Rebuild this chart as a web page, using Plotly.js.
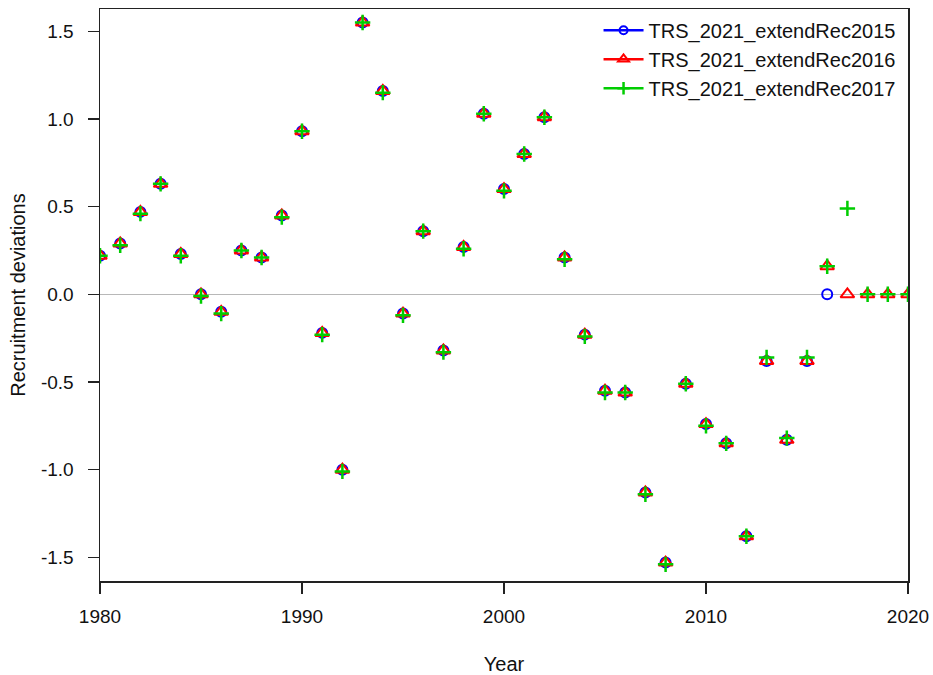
<!DOCTYPE html>
<html>
<head>
<meta charset="utf-8">
<script src="https://cdn.plot.ly/plotly-3.0.1.min.js"></script>
<style>html,body{margin:0;padding:0;background:#fff;}#chart{width:933px;height:675px;}</style>
</head>
<body>
<div id="chart"></div>
<script>
// ---- data ----
const seriesNames = ["TRS_2021_extendRec2015", "TRS_2021_extendRec2016", "TRS_2021_extendRec2017"];

const yearsRec2015 = [1980,1981,1982,1983,1984,1985,1986,1987,1988,1989,
                      1990,1991,1992,1993,1994,1995,1996,1997,1998,1999,
                      2000,2001,2002,2003,2004,2005,2006,2007,2008,2009,
                      2010,2011,2012,2013,2014,2015,2016];
const devsRec2015  = [0.22,0.29,0.47,0.63,0.23,0.00,-0.10,0.25,0.21,0.45,
                      0.93,-0.22,-1.00,1.55,1.16,-0.11,0.36,-0.32,0.27,1.03,
                      0.60,0.80,1.01,0.21,-0.23,-0.55,-0.56,-1.13,-1.53,-0.51,
                      -0.74,-0.85,-1.38,-0.38,-0.83,-0.38,0.00];

const yearsRec2016 = [1980,1981,1982,1983,1984,1985,1986,1987,1988,1989,
                      1990,1991,1992,1993,1994,1995,1996,1997,1998,1999,
                      2000,2001,2002,2003,2004,2005,2006,2007,2008,2009,
                      2010,2011,2012,2013,2014,2015,2016,2017,2018,2019,2020];
const devsRec2016  = [0.22,0.29,0.47,0.63,0.23,0.00,-0.10,0.25,0.21,0.45,
                      0.93,-0.22,-1.00,1.55,1.16,-0.11,0.36,-0.32,0.27,1.03,
                      0.60,0.80,1.01,0.21,-0.23,-0.55,-0.56,-1.13,-1.53,-0.51,
                      -0.74,-0.85,-1.38,-0.38,-0.83,-0.38,0.16,0.00,0.00,0.00,0.00];

const yearsRec2017 = [1980,1981,1982,1983,1984,1985,1986,1987,1988,1989,
                      1990,1991,1992,1993,1994,1995,1996,1997,1998,1999,
                      2000,2001,2002,2003,2004,2005,2006,2007,2008,2009,
                      2010,2011,2012,2013,2014,2015,2016,2017,2018,2019,2020];
const devsRec2017  = [0.22,0.28,0.46,0.63,0.22,-0.01,-0.11,0.25,0.21,0.44,
                      0.93,-0.23,-1.01,1.55,1.15,-0.12,0.36,-0.33,0.26,1.03,
                      0.59,0.80,1.01,0.20,-0.24,-0.56,-0.56,-1.14,-1.54,-0.51,
                      -0.75,-0.85,-1.38,-0.36,-0.82,-0.36,0.16,0.49,0.00,0.00,0.00];

const xTickVals = [1980, 1990, 2000, 2010, 2020];
const xTickText = ["1980", "1990", "2000", "2010", "2020"];
const yTickVals = [-1.5, -1.0, -0.5, 0.0, 0.5, 1.0, 1.5];
const yTickText = ["-1.5", "-1.0", "-0.5", "0.0", "0.5", "1.0", "1.5"];

// ---- styles ----
const FONT = "Liberation Sans, Arial, Helvetica, sans-serif";
const colors = ["#0000FF", "#FF0000", "#00CD00"];
const markerStyles = [
  {symbol: "circle-open", size: 10, line: {width: 2, color: colors[0]}, color: colors[0]},
  {symbol: "triangle-up-open", size: 12, line: {width: 2, color: colors[1]}, color: colors[1]},
  {symbol: "cross-thin-open", size: 11, line: {width: 2.5, color: colors[2]}, color: colors[2]}
];
const xs = [yearsRec2015, yearsRec2016, yearsRec2017];
const ys = [devsRec2015, devsRec2016, devsRec2017];

const traces = [];
for (let i = 0; i < 3; i++) {
  traces.push({
    type: "scatter", mode: "markers", x: xs[i], y: ys[i],
    marker: markerStyles[i], showlegend: false, cliponaxis: true,
    hoverinfo: "x+y", name: seriesNames[i]
  });
}
// legend entries (line + marker, as in the reference key)
for (let i = 0; i < 3; i++) {
  traces.push({
    type: "scatter", mode: "lines+markers", x: [null], y: [null],
    name: seriesNames[i],
    line: {color: colors[i], width: 2.5},
    marker: Object.assign({}, markerStyles[i], {size: markerStyles[i].size * 0.8}),
    showlegend: true
  });
}

const layout = {
  width: 933, height: 675,
  margin: {l: 100, r: 25, t: 9, b: 94, pad: 0},
  paper_bgcolor: "#ffffff", plot_bgcolor: "#ffffff",
  font: {family: FONT, size: 19, color: "#111"},
  showlegend: true,
  legend: {
    x: 0.617, y: 0.997, xanchor: "left", yanchor: "top",
    bgcolor: "rgba(0,0,0,0)", borderwidth: 0,
    font: {family: FONT, size: 20, color: "#111"},
    itemwidth: 40, tracegroupgap: 0
  },
  xaxis: {
    range: [1980, 2020], tickmode: "array", tickvals: xTickVals, ticktext: xTickText,
    showgrid: false, zeroline: false,
    showline: true, mirror: true, linecolor: "#222", linewidth: 1.5,
    ticks: "outside", ticklen: 11, tickwidth: 1.3, tickcolor: "#222",
    ticklabelstandoff: 7,
    tickfont: {family: FONT, size: 19, color: "#111"},
    title: {text: "Year", font: {family: FONT, size: 20, color: "#111"}, standoff: 31}
  },
  yaxis: {
    range: [-1.635, 1.627], tickmode: "array", tickvals: yTickVals, ticktext: yTickText,
    showgrid: false,
    zeroline: true, zerolinecolor: "#b8b8b8", zerolinewidth: 1.5,
    showline: true, mirror: true, linecolor: "#222", linewidth: 1.5,
    ticks: "outside", ticklen: 11, tickwidth: 1.3, tickcolor: "#222",
    ticklabelstandoff: 10,
    tickfont: {family: FONT, size: 19, color: "#111"},
    title: {text: "Recruitment deviations", font: {family: FONT, size: 20, color: "#111"}, standoff: 10}
  }
};

Plotly.newPlot("chart", traces, layout, {staticPlot: true, displayModeBar: false});
</script>
</body>
</html>
